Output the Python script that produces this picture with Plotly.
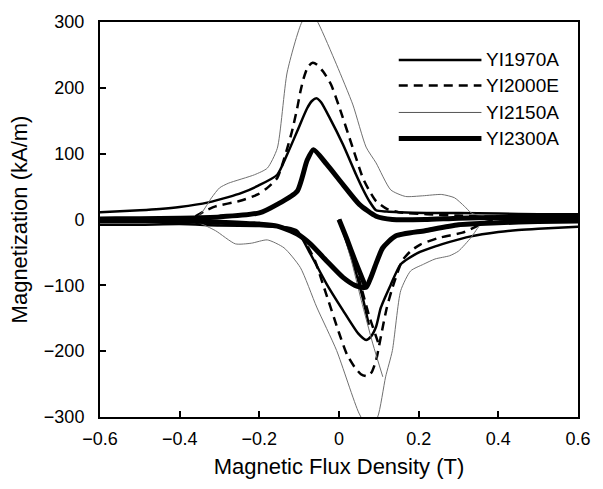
import plotly.graph_objects as go

# ---- YI1970A ----
s1970_dec_x = [0.65, 0.5, 0.4, 0.3, 0.22, 0.15, 0.12, 0.093, 0.076, 0.06, 0.043, 0.01, -0.023, -0.045, -0.056, -0.068, -0.08, -0.105, -0.13, -0.155, -0.204, -0.246, -0.278, -0.328, -0.4, -0.45, -0.5, -0.6, -0.65]
s1970_dec_y = [8, 8, 9, 10, 10, 11, 12, 14, 28, 46, 68, 114, 154, 178, 184, 180, 169, 134, 99, 68, 51, 40, 34, 26, 19, 16, 14, 11, 10]
s1970_inc_x = [-0.65, -0.6, -0.5, -0.4, -0.3, -0.2, -0.13, -0.105, -0.072, -0.031, 0.01, 0.048, 0.068, 0.08, 0.093, 0.105, 0.13, 0.155, 0.197, 0.246, 0.278, 0.328, 0.4, 0.45, 0.5, 0.6, 0.65]
s1970_inc_y = [-8, -8, -8, -7, -9, -10, -12, -17, -52, -98, -138, -173, -183, -178, -163, -134, -99, -68, -51, -40, -34, -26, -19, -16, -14, -11, -10]
s1970_init_x = [0.0, 0.02, 0.04, 0.06, 0.075]
s1970_init_y = [0, -35, -75, -120, -160]

# ---- YI2000E ----
s2000_dec_x = [0.65, 0.5, 0.4, 0.3, 0.22, 0.15, 0.12, 0.093, 0.075, 0.06, 0.035, 0.0, -0.02, -0.039, -0.055, -0.066, -0.078, -0.089, -0.097, -0.105, -0.118, -0.13, -0.142, -0.155, -0.18, -0.204, -0.25, -0.31, -0.34, -0.36, -0.4, -0.5, -0.65]
s2000_dec_y = [1, 2, 4, 6, 8, 11, 16, 28, 45, 63, 108, 172, 205, 224, 235, 238, 232, 214, 194, 169, 134, 108, 84, 63, 48, 38, 28, 20, 12, 5, 1, 0, -1]
s2000_inc_x = [-0.65, -0.5, -0.4, -0.3, -0.22, -0.15, -0.12, -0.093, -0.075, -0.06, -0.035, 0.0, 0.02, 0.039, 0.055, 0.07, 0.082, 0.093, 0.1, 0.108, 0.12, 0.132, 0.145, 0.158, 0.18, 0.204, 0.25, 0.31, 0.34, 0.36, 0.4, 0.5, 0.65]
s2000_inc_y = [-1, -2, -4, -6, -8, -11, -16, -28, -45, -63, -108, -172, -205, -224, -235, -238, -232, -214, -194, -169, -134, -108, -84, -63, -48, -38, -28, -20, -12, -5, -1, 0, 1]
s2000_init_x = [0.0, 0.025, 0.05, 0.075, 0.1]
s2000_init_y = [0, -40, -90, -145, -190]

# ---- YI2150A ----
s2150_dec_x = [0.65, 0.5, 0.4, 0.357, 0.332, 0.315, 0.29, 0.258, 0.21, 0.167, 0.13, 0.093, 0.068, 0.035, -0.006, -0.051, -0.07, -0.093, -0.13, -0.155, -0.18, -0.212, -0.278, -0.3, -0.32, -0.345, -0.36, -0.4, -0.5, -0.65]
s2150_dec_y = [0, 1, 2, 5, 10, 20, 33, 38, 36, 35, 45, 86, 110, 174, 235, 297, 315, 300, 224, 108, 78, 68, 55, 48, 33, 10, 3, 1, 0, -1]
s2150_inc_x = [-0.65, -0.5, -0.4, -0.353, -0.31, -0.26, -0.22, -0.18, -0.138, -0.097, -0.056, -0.006, 0.05, 0.075, 0.097, 0.117, 0.134, 0.155, 0.18, 0.212, 0.241, 0.278, 0.3, 0.332, 0.357, 0.4, 0.5, 0.65]
s2150_inc_y = [1, 0, -2, -5, -17, -37, -36, -31, -43, -73, -133, -199, -294, -318, -300, -239, -199, -108, -78, -68, -60, -55, -48, -27, -7, -2, -1, 0]
s2150_init_x = [0.0, 0.03, 0.056, 0.085, 0.11]
s2150_init_y = [0, -60, -123, -189, -239]

# ---- YI2300A ----
s2300_dec_x = [0.65, 0.5, 0.4, 0.3, 0.216, 0.134, 0.093, 0.051, 0.01, -0.031, -0.064, -0.08, -0.105, -0.155, -0.2, -0.3, -0.4, -0.5, -0.65]
s2300_dec_y = [3, 3, 3, 2, 0, 0, 5, 23, 53, 84, 106, 90, 43, 23, 10, 4, 2, 1, 0]
s2300_inc_x = [-0.65, -0.5, -0.4, -0.3, -0.2, -0.155, -0.105, -0.072, -0.031, 0.01, 0.04, 0.068, 0.08, 0.093, 0.11, 0.142, 0.216, 0.3, 0.4, 0.5, 0.65]
s2300_inc_y = [-1, -2, -2, -4, -7, -10, -22, -37, -63, -88, -100, -103, -88, -67, -43, -25, -17, -8, -5, -3, -2]
s2300_init_x = [0.0, 0.02, 0.04, 0.06, 0.068]
s2300_init_y = [0, -30, -62, -92, -103]

names = ["YI1970A", "YI2000E", "YI2150A", "YI2300A"]
loops = [
    (s1970_dec_x, s1970_dec_y, s1970_inc_x, s1970_inc_y, s1970_init_x, s1970_init_y),
    (s2000_dec_x, s2000_dec_y, s2000_inc_x, s2000_inc_y, s2000_init_x, s2000_init_y),
    (s2150_dec_x, s2150_dec_y, s2150_inc_x, s2150_inc_y, s2150_init_x, s2150_init_y),
    (s2300_dec_x, s2300_dec_y, s2300_inc_x, s2300_inc_y, s2300_init_x, s2300_init_y),
]
styles = [
    dict(color="black", width=2.5, dash="solid"),
    dict(color="black", width=2.5, dash="9px,6px"),
    dict(color="#707070", width=1, dash="solid"),
    dict(color="black", width=5, dash="solid"),
]

fig = go.Figure()
for name, (dx, dy, ix, iy, nx, ny), st in zip(names, loops, styles):
    line = dict(color=st["color"], width=st["width"], dash=st["dash"], shape="spline", smoothing=0.6)
    # descending branch followed by ascending branch forms the loop
    fig.add_trace(go.Scatter(x=list(dx) + list(ix), y=list(dy) + list(iy),
                             mode="lines", name=name, line=line, showlegend=False))
    # initial magnetization curve from the origin
    fig.add_trace(go.Scatter(x=nx, y=ny, mode="lines", name=name, line=line, showlegend=False))

# legend drawn in the upper right of the plot area
font_family = "Liberation Sans, Arial, sans-serif"
legend_rows_y = [0.904, 0.839, 0.771, 0.705]
for name, st, ly in zip(names, styles, legend_rows_y):
    fig.add_shape(type="line", xref="paper", yref="paper",
                  x0=0.625, x1=0.798, y0=ly, y1=ly,
                  line=dict(color="#555555" if st["width"] < 2 else st["color"],
                            width=st["width"], dash=st["dash"]))
    fig.add_annotation(xref="paper", yref="paper", x=0.804, y=ly, text=name,
                       showarrow=False, xanchor="left", yanchor="middle",
                       font=dict(family=font_family, size=19, color="black"))

fig.update_layout(
    width=603, height=489,
    margin=dict(l=100, r=18, t=20, b=72),
    paper_bgcolor="white", plot_bgcolor="white",
    font=dict(family=font_family, size=18, color="black"),
    showlegend=False,
    xaxis=dict(
        range=[-0.6, 0.6], tickvals=[-0.6, -0.4, -0.2, 0, 0.2, 0.4, 0.6],
        ticktext=["\u22120.6", "\u22120.4", "\u22120.2", "0", "0.2", "0.4", "0.6"],
        ticks="inside", ticklen=6, tickwidth=1.5, tickcolor="black",
        ticklabelstandoff=4,
        showline=True, linecolor="black", linewidth=2, mirror=True,
        showgrid=False, zeroline=False,
        title=dict(text="Magnetic Flux Density (T)", standoff=11),
        tickfont=dict(size=18),
    ),
    yaxis=dict(
        range=[-300, 300], tickvals=[-300, -200, -100, 0, 100, 200, 300],
        ticktext=["\u2212300", "\u2212200", "\u2212100", "0", "100", "200", "300"],
        ticks="inside", ticklen=6, tickwidth=1.5, tickcolor="black",
        ticklabelstandoff=10,
        showline=True, linecolor="black", linewidth=2, mirror=True,
        showgrid=False, zeroline=False,
        title=dict(text="Magnetization (kA/m)", standoff=10),
        tickfont=dict(size=18),
    ),
)

fig.write_html("out.html")
